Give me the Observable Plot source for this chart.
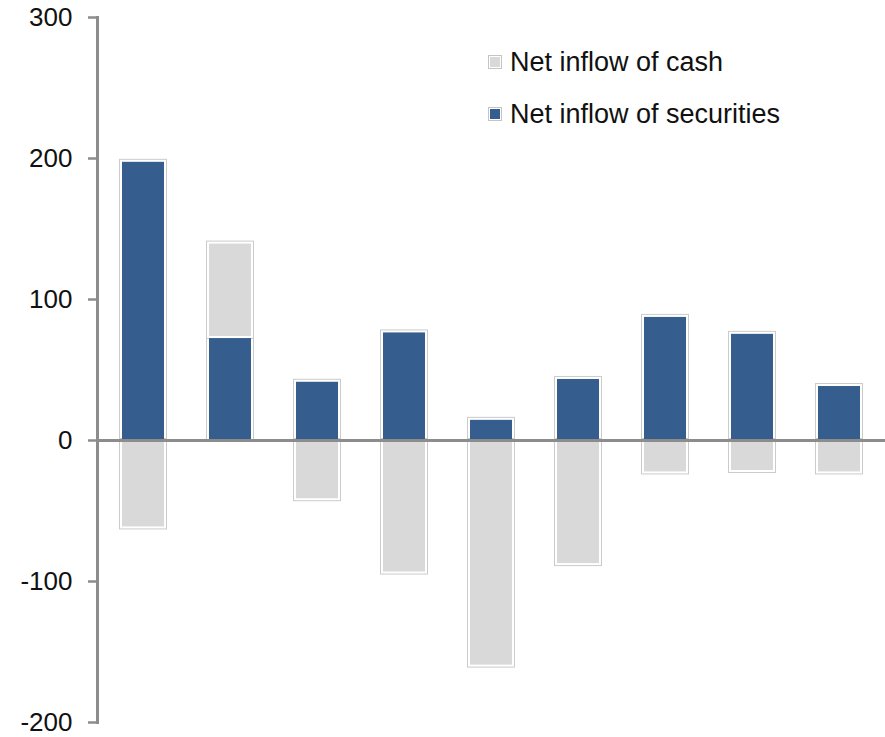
<!DOCTYPE html>
<html>
<head>
<meta charset="utf-8">
<script src="https://cdn.jsdelivr.net/npm/d3@7"></script>
<script src="https://cdn.jsdelivr.net/npm/@observablehq/plot@0.6"></script>
<style>
  html, body { margin: 0; padding: 0; background: #fff; }
  #wrap { position: relative; width: 885px; height: 737px; font-family: "Liberation Sans", Arial, sans-serif; }
  #legend { position: absolute; left: 488px; top: 44px; font-size: 27px; color: #111; }
  .item { display: flex; align-items: center; height: 36px; margin-bottom: 16px; }
  .sw { width: 12px; height: 12px; border: 1px solid #c4c4c4; margin-right: 8px; box-shadow: inset 0 0 0 1px #fff; }
</style>
</head>
<body>
<div id="wrap"></div>
<script>
const categories = ["1", "2", "3", "4", "5", "6", "7", "8", "9"];
const securities = [198, 73, 42, 77, 15, 44, 88, 76, 39];
const cash = [-62, 67, -42, -94, -160, -88, -23, -22, -23];
const seriesNames = ["Net inflow of securities", "Net inflow of cash"];
const seriesColors = ["#355E8E", "#D9D9D9"];
const yTicks = [-200, -100, 0, 100, 200, 300];

const data = [];
categories.forEach((c, i) => {
  data.push({cat: c, series: seriesNames[0], value: securities[i]});
  data.push({cat: c, series: seriesNames[1], value: cash[i]});
});

const stackOpts = {x: "cat", y: "value", z: "series", order: seriesNames};

const chart = Plot.plot({
  width: 885,
  height: 737,
  marginLeft: 97,
  marginRight: 0,
  marginTop: 17,
  marginBottom: 15,
  style: {fontFamily: "Liberation Sans, Arial, sans-serif", fontSize: "26px", color: "#111"},
  x: {domain: categories, paddingInner: 0.5, paddingOuter: 0.25, axis: null},
  y: {domain: [-200, 300], axis: null, label: null},
  color: {domain: seriesNames, range: seriesColors},
  marks: [
    Plot.rectY(data, Plot.stackY({...stackOpts, fill: "white", stroke: "#cbcbcb", strokeWidth: 1, inset: -1.5})),
    Plot.rectY(data, Plot.stackY({...stackOpts, fill: "series", inset: 1})),
    Plot.frame({anchor: "left", stroke: "#8c8c8c", strokeWidth: 3}),
    Plot.axisY({
      ticks: yTicks,
      label: null,
      tickSize: 9,
      tickPadding: 16,
      stroke: "#8c8c8c",
      strokeWidth: 2.5,
      fill: "#111",
      fontSize: 26,
      tickFormat: d => (d < 0 ? "-" + Math.abs(d) : String(d))
    }),
    Plot.ruleY([0], {stroke: "#8c8c8c", strokeWidth: 3})
  ]
});

const wrap = document.getElementById("wrap");
wrap.appendChild(chart);

const legend = document.createElement("div");
legend.id = "legend";
[1, 0].forEach(k => {
  const item = document.createElement("div");
  item.className = "item";
  const sw = document.createElement("div");
  sw.className = "sw";
  sw.style.background = seriesColors[k];
  const label = document.createElement("span");
  label.textContent = seriesNames[k];
  item.appendChild(sw);
  item.appendChild(label);
  legend.appendChild(item);
});
wrap.appendChild(legend);
</script>
</body>
</html>
